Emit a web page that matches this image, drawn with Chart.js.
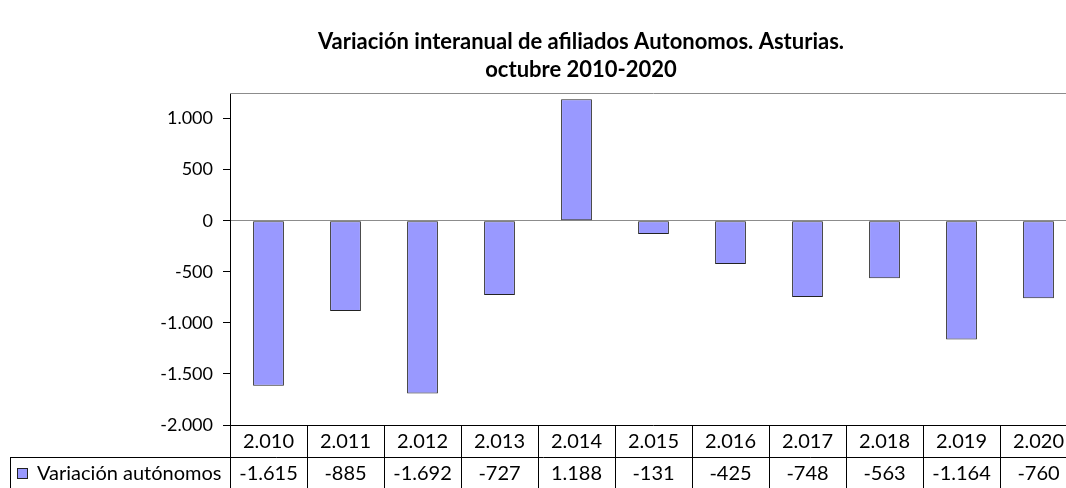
<!DOCTYPE html>
<html>
<head>
<meta charset="utf-8">
<script src="https://cdn.jsdelivr.net/npm/chart.js@4.4.1/dist/chart.umd.min.js"></script>
<style>
  html, body { margin: 0; padding: 0; background: #fff; }
  #wrap { width: 1066px; height: 488px; overflow: hidden; position: relative; }
  canvas { display: block; }
</style>
</head>
<body>
<div id="wrap"><canvas id="c" width="1100" height="488"></canvas></div>
<script>
const titleLines = ['Variación interanual de afiliados Autonomos. Asturias.', 'octubre 2010-2020'];
const categories = ['2.010', '2.011', '2.012', '2.013', '2.014', '2.015', '2.016', '2.017', '2.018', '2.019', '2.020'];
const seriesName = 'Variación autónomos';
const values = [-1615, -885, -1692, -727, 1188, -131, -425, -748, -563, -1164, -760];
const yTickValues = [-2000, -1500, -1000, -500, 0, 500, 1000];
const yMin = -2000;
const yMax = 1250;

function fmt(v) {
  const neg = v < 0;
  let s = String(Math.abs(Math.round(v)));
  s = s.replace(/\B(?=(\d{3})+(?!\d))/g, '.');
  return (neg ? '-' : '') + s;
}

const FONT = 'Lato, "Noto Sans", sans-serif';
const BAR_FILL = '#9999FF';
const BAR_LINE = '#222222';

const extras = {
  id: 'extras',
  afterDraw(chart) {
    const ctx = chart.ctx;
    const a = chart.chartArea;
    const xs = chart.scales.x;
    const n = categories.length;
    const colW = xs.getPixelForValue(1) - xs.getPixelForValue(0);
    const left = xs.getPixelForValue(0) - colW / 2;
    const right = xs.getPixelForValue(n - 1) + colW / 2;
    const rowH = 32;
    const hTop = a.bottom;
    const hBot = hTop + rowH;
    const dBot = hBot + rowH;
    ctx.save();
    // top border of plot area
    ctx.strokeStyle = '#8c8c8c';
    ctx.lineWidth = 1;
    ctx.beginPath();
    ctx.moveTo(a.left, Math.round(a.top) + 0.5);
    ctx.lineTo(right, Math.round(a.top) + 0.5);
    ctx.stroke();

    // title
    ctx.fillStyle = '#000';
    ctx.font = 'bold 22px ' + FONT;
    ctx.textAlign = 'center';
    ctx.textBaseline = 'middle';
    ctx.fillText(titleLines[0], 581, 42);
    ctx.fillText(titleLines[1], 581, 70);

    // table lines
    ctx.strokeStyle = '#000';
    ctx.beginPath();
    ctx.moveTo(left, Math.round(hTop) + 0.5); ctx.lineTo(right, Math.round(hTop) + 0.5);
    ctx.moveTo(10, Math.round(hBot) + 0.5); ctx.lineTo(right, Math.round(hBot) + 0.5);
    ctx.moveTo(10, Math.round(dBot) + 0.5); ctx.lineTo(right, Math.round(dBot) + 0.5);
    ctx.moveTo(10.5, hBot); ctx.lineTo(10.5, dBot);
    for (let i = 0; i <= n; i++) {
      const x = Math.round(left + i * colW) + 0.5;
      ctx.moveTo(x, hTop); ctx.lineTo(x, dBot);
    }
    ctx.stroke();

    // table text
    ctx.fillStyle = '#000';
    ctx.font = '20px ' + FONT;
    ctx.textAlign = 'center';
    ctx.textBaseline = 'middle';
    for (let i = 0; i < n; i++) {
      const cx = xs.getPixelForValue(i);
      ctx.fillText(categories[i], cx, (hTop + hBot) / 2 + 1);
      ctx.fillText(fmt(values[i]), cx, (hBot + dBot) / 2 + 1);
    }
    // legend key
    const ky = (hBot + dBot) / 2;
    ctx.fillStyle = BAR_FILL;
    ctx.fillRect(17, ky - 5, 11, 11);
    ctx.strokeStyle = BAR_LINE;
    ctx.strokeRect(17.5, ky - 4.5, 10, 10);
    ctx.fillStyle = '#000';
    ctx.textAlign = 'left';
    ctx.fillText(seriesName, 37, ky + 1);
    ctx.restore();
  }
};

new Chart(document.getElementById('c'), {
  type: 'bar',
  data: {
    labels: categories,
    datasets: [{
      label: seriesName,
      data: values,
      backgroundColor: BAR_FILL,
      borderColor: BAR_LINE,
      borderWidth: 1,
      borderSkipped: false,
      categoryPercentage: 1,
      barPercentage: 0.4
    }]
  },
  options: {
    responsive: false,
    animation: false,
    devicePixelRatio: 1,
    layout: { padding: { left: 0, right: 23, top: 93, bottom: 63 } },
    plugins: { legend: { display: false }, title: { display: false }, tooltip: { enabled: false } },
    scales: {
      x: { display: false, offset: true },
      y: {
        min: yMin,
        max: yMax,
        afterBuildTicks(scale) { scale.ticks = yTickValues.map(v => ({ value: v })); },
        afterFit(scale) { scale.width = 230; },
        ticks: {
          callback: v => fmt(v),
          color: '#000',
          padding: 10,
          font: { family: FONT, size: 18 }
        },
        grid: {
          color: c => (c.tick && c.tick.value === 0) ? '#8c8c8c' : 'rgba(0,0,0,0)',
          tickColor: '#000',
          tickLength: 7,
          drawOnChartArea: true
        },
        border: { display: true, color: '#000', width: 1 }
      }
    }
  },
  plugins: [extras]
});
</script>
</body>
</html>
